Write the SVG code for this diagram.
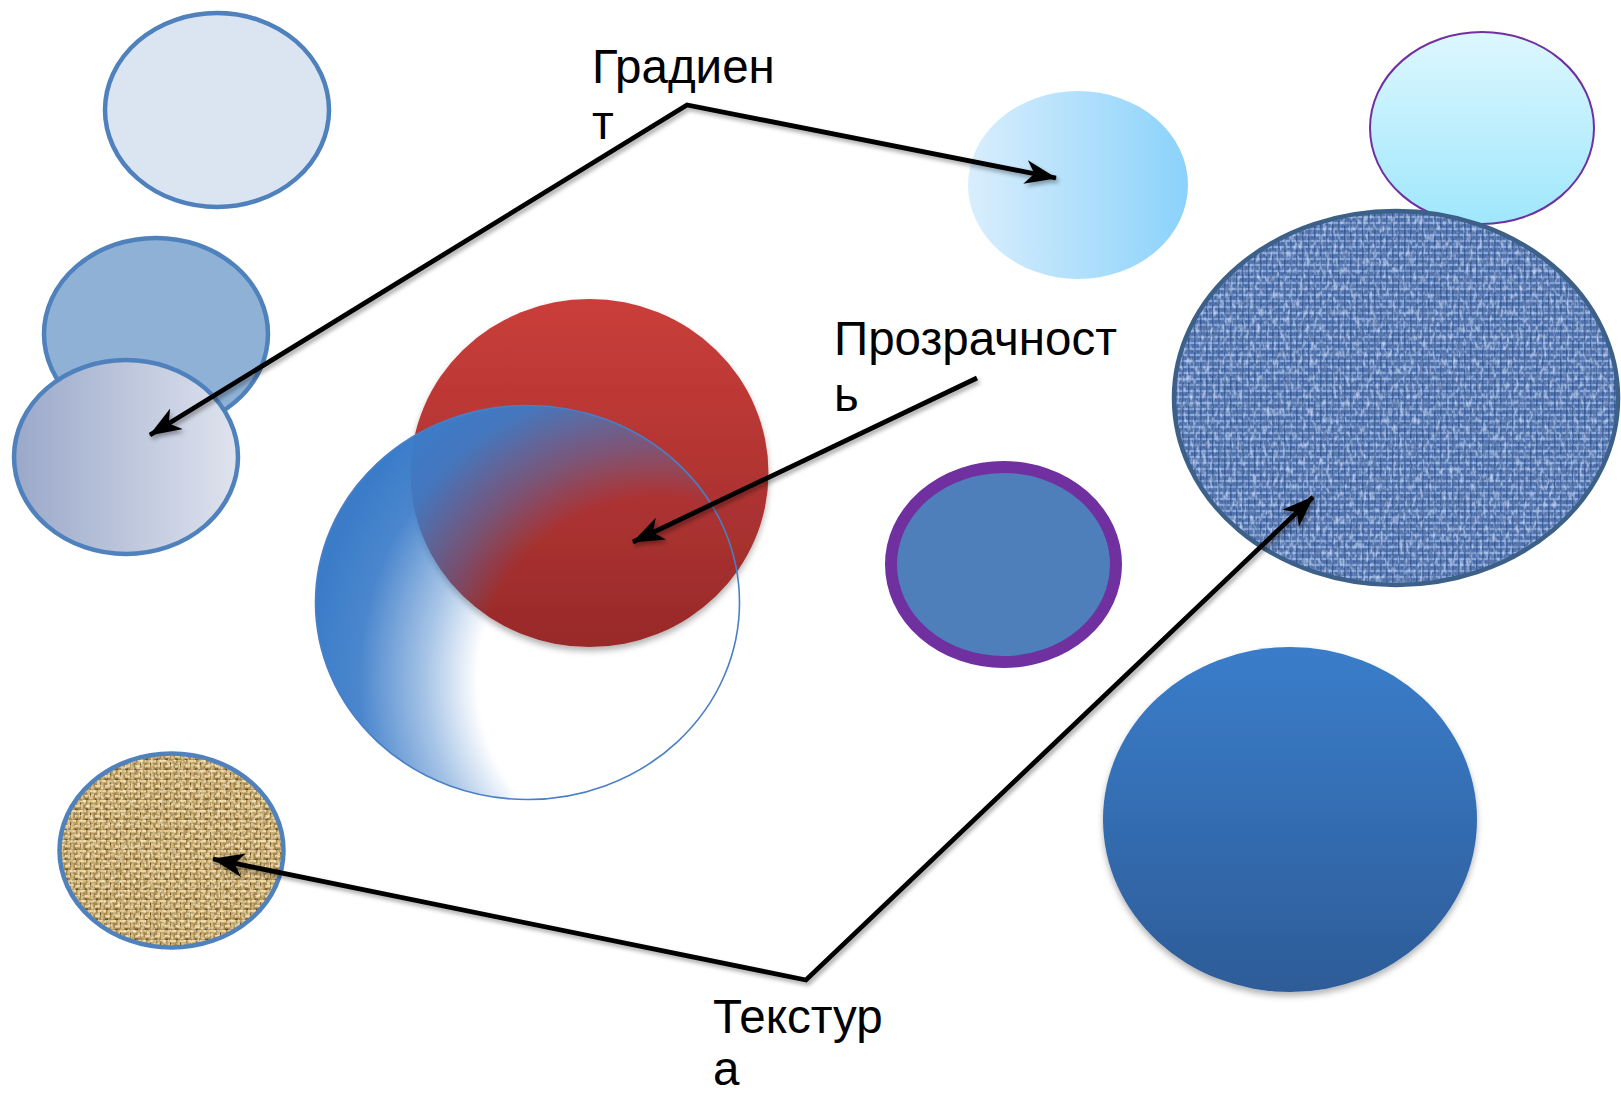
<svg xmlns="http://www.w3.org/2000/svg" width="1621" height="1094" viewBox="0 0 1621 1094">
<style>
.lbl{font-family:"Liberation Sans",Arial,"Noto Sans",sans-serif;font-size:47.5px;fill:#000}
.conn{fill:none;stroke:#000;stroke-width:4.8;stroke-linejoin:miter}
.bstroke{stroke:#4f81bd;stroke-width:4.5}
</style>
<defs>
<marker id="arr" viewBox="0 0 32 24" refX="31" refY="12" markerWidth="32" markerHeight="24" markerUnits="userSpaceOnUse" orient="auto-start-reverse">
<path d="M0,0 L32,12 L0,24 L9,12 z" fill="#000"/>
</marker>
<filter id="shadow" x="-10%" y="-10%" width="130%" height="130%">
<feDropShadow dx="2" dy="3" stdDeviation="2" flood-color="#000" flood-opacity="0.35"/>
</filter>
<filter id="softShadow" x="-10%" y="-10%" width="120%" height="125%">
<feDropShadow dx="0" dy="4" stdDeviation="3" flood-color="#000" flood-opacity="0.3"/>
</filter>
<linearGradient id="gLowLeft" x1="0" y1="0" x2="1" y2="0">
<stop offset="0" stop-color="#9aa8c9"/>
<stop offset="1" stop-color="#dfe3ee"/>
</linearGradient>
<linearGradient id="gLightBlue" x1="0" y1="0" x2="1" y2="0">
<stop offset="0" stop-color="#d9eefd"/>
<stop offset="1" stop-color="#8bd2fb"/>
</linearGradient>
<linearGradient id="gCyan" x1="0" y1="0" x2="0" y2="1">
<stop offset="0" stop-color="#ddf7fe"/>
<stop offset="1" stop-color="#9fe7fc"/>
</linearGradient>
<linearGradient id="gRed" x1="0" y1="0" x2="0" y2="1">
<stop offset="0" stop-color="#ca3e3a"/>
<stop offset="1" stop-color="#982a2a"/>
</linearGradient>
<linearGradient id="gBigBlue" x1="0" y1="0" x2="0" y2="1">
<stop offset="0" stop-color="#3a7dca"/>
<stop offset="1" stop-color="#2d5c98"/>
</linearGradient>
<radialGradient id="gTrans" gradientUnits="userSpaceOnUse" cx="660" cy="680" r="350">
<stop offset="0" stop-color="#3b7cc9" stop-opacity="0"/>
<stop offset="0.52" stop-color="#3b7cc9" stop-opacity="0"/>
<stop offset="0.67" stop-color="#3b7cc9" stop-opacity="0.45"/>
<stop offset="0.86" stop-color="#3b7cc9" stop-opacity="0.92"/>
<stop offset="1" stop-color="#3b7cc9" stop-opacity="1"/>
</radialGradient>
<pattern id="denim" width="6" height="6" patternUnits="userSpaceOnUse">
<rect width="6" height="6" fill="#5579b5"/>
<rect x="0" y="0" width="6" height="2" fill="#9dbbec" opacity="0.75"/>
<rect x="0" y="0" width="1.6" height="6" fill="#25427a" opacity="0.6"/>
<rect x="3" y="3" width="2" height="1.5" fill="#34558f" opacity="0.6"/>
</pattern>
<pattern id="burlap" width="10" height="10" patternUnits="userSpaceOnUse">
<rect width="10" height="10" fill="#a68750"/>
<rect x="0" y="0" width="6" height="2.5" fill="#eed89e"/>
<rect x="5" y="5" width="6" height="2.5" fill="#eed89e"/>
<rect x="7.5" y="0" width="2.5" height="5" fill="#dcc283"/>
<rect x="1" y="3.5" width="2.5" height="6" fill="#d8bd7e"/>
<rect x="5" y="8.5" width="3" height="1.5" fill="#644b22"/>
<rect x="0" y="2.5" width="1" height="2.5" fill="#644b22"/>
</pattern>
<filter id="noiseDenim" x="0" y="0" width="1" height="1">
<feTurbulence type="fractalNoise" baseFrequency="0.3 0.12" numOctaves="2" seed="4" result="t"/>
<feColorMatrix in="t" type="matrix" values="0 0 0 0 0.12  0 0 0 0 0.2  0 0 0 0 0.42  3 0 0 0 -1.35" result="dark"/>
<feColorMatrix in="t" type="matrix" values="0 0 0 0 0.6  0 0 0 0 0.72  0 0 0 0 0.95  0 2.6 0 0 -1.3" result="light"/>
<feMerge result="m"><feMergeNode in="dark"/><feMergeNode in="light"/></feMerge>
<feComposite in="m" in2="SourceGraphic" operator="in"/>
</filter>
<filter id="noiseBurlap" x="0" y="0" width="1" height="1">
<feTurbulence type="fractalNoise" baseFrequency="0.3 0.3" numOctaves="2" seed="9" result="t"/>
<feColorMatrix in="t" type="matrix" values="0 0 0 0 0.32  0 0 0 0 0.22  0 0 0 0 0.08  3 0 0 0 -1.4" result="dark"/>
<feColorMatrix in="t" type="matrix" values="0 0 0 0 0.97  0 0 0 0 0.9  0 0 0 0 0.7  0 2.6 0 0 -1.3" result="light"/>
<feMerge result="m"><feMergeNode in="dark"/><feMergeNode in="light"/></feMerge>
<feComposite in="m" in2="SourceGraphic" operator="in"/>
</filter>
</defs>
<rect width="1621" height="1094" fill="#fff"/>

<g id="node-topleft"><ellipse cx="217" cy="110" rx="112" ry="97" fill="#dbe5f1" class="bstroke"/></g>
<g id="node-midleft"><ellipse cx="156" cy="334" rx="112" ry="96" fill="#8fb1d6" class="bstroke"/></g>
<g id="node-lowleft"><ellipse cx="126" cy="457" rx="112" ry="97" fill="url(#gLowLeft)" class="bstroke"/></g>
<g id="node-lightblue"><ellipse cx="1078" cy="185" rx="110" ry="94" fill="url(#gLightBlue)"/></g>
<g id="node-cyan"><ellipse cx="1482" cy="128" rx="112" ry="96" fill="url(#gCyan)" stroke="#7030a0" stroke-width="2"/></g>
<g id="node-denim">
<ellipse cx="1396" cy="398" rx="222" ry="187" fill="url(#denim)"/>
<ellipse cx="1396" cy="398" rx="222" ry="187" fill="#000" filter="url(#noiseDenim)" opacity="0.85"/>
<ellipse cx="1396" cy="398" rx="222" ry="187" fill="none" stroke="#3c6088" stroke-width="4.5"/>
</g>
<g id="node-purple"><ellipse cx="1003.5" cy="564.5" rx="112.5" ry="97.5" fill="#4e7fba" stroke="#7030a0" stroke-width="12"/></g>
<g id="node-bigblue"><ellipse cx="1290" cy="819.5" rx="187" ry="172.5" fill="url(#gBigBlue)" filter="url(#softShadow)"/></g>
<g id="node-burlap">
<ellipse cx="171.5" cy="850.5" rx="112" ry="97" fill="url(#burlap)"/>
<ellipse cx="171.5" cy="850.5" rx="112" ry="97" fill="#000" filter="url(#noiseBurlap)" opacity="0.8"/>
<ellipse cx="171.5" cy="850.5" rx="112" ry="97" fill="none" class="bstroke"/>
</g>
<g id="node-red"><ellipse cx="589.5" cy="473" rx="179" ry="174" fill="url(#gRed)" filter="url(#softShadow)"/></g>
<g id="node-transparent"><ellipse cx="527.5" cy="602.5" rx="212" ry="197" fill="url(#gTrans)" stroke="#4a7fc6" stroke-width="1.6"/></g>

<g id="connectors" filter="url(#shadow)">
<path class="conn" d="M150,435 L687,105 L1056,178" marker-start="url(#arr)" marker-end="url(#arr)"/>
<path class="conn" d="M977,378 L633,542" marker-end="url(#arr)"/>
<path class="conn" d="M213,859 L806,980 L1313,497" marker-start="url(#arr)" marker-end="url(#arr)"/>
</g>

<g id="label-gradient"><text class="lbl" x="592" y="83">Градиен</text><text class="lbl" x="592" y="139">т</text></g>
<g id="label-transparency"><text class="lbl" x="834" y="355">Прозрачност</text><text class="lbl" x="834" y="411">ь</text></g>
<g id="label-texture"><text class="lbl" x="713" y="1033">Текстур</text><text class="lbl" x="713" y="1085">а</text></g>
</svg>
